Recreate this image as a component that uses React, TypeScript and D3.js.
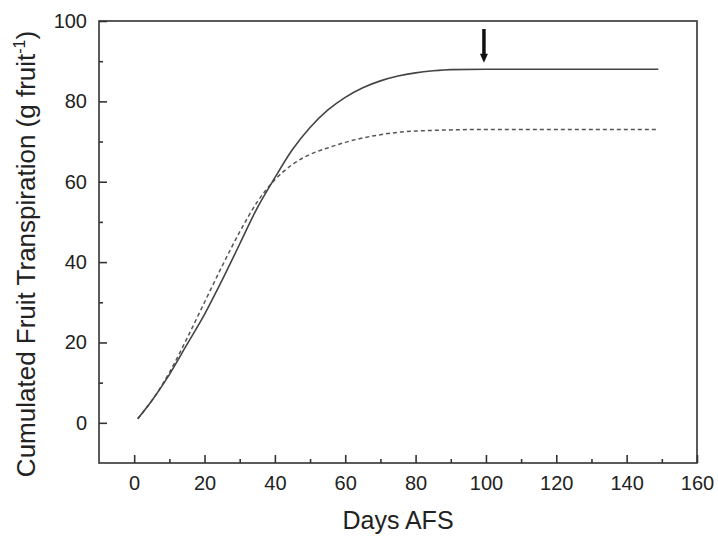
import React, { useEffect, useRef } from 'react';
import * as d3 from 'd3';

// days after full bloom (x) and cumulated transpiration (g per fruit)
const solidDays = [1, 5, 10, 15, 20, 25, 30, 35, 40, 45, 50, 55, 60, 65, 70, 75, 80, 85, 90, 100, 110, 120, 130, 140, 149];
const solidValues = [1, 5.5, 12, 19.5, 27, 35.5, 44.5, 53.5, 61, 68, 73.5, 77.8, 81, 83.4, 85.1, 86.3, 87.1, 87.6, 87.9, 88, 88, 88, 88, 88, 88];

const dashedDays = [1, 5, 10, 15, 20, 25, 30, 35, 40, 45, 50, 55, 60, 65, 70, 75, 80, 90, 100, 110, 120, 130, 140, 149];
const dashedValues = [1, 5.5, 12.5, 21, 30, 39, 47.5, 55, 60.5, 64.3, 66.8, 68.4, 69.8, 70.9, 71.7, 72.3, 72.6, 72.9, 73, 73, 73, 73, 73, 73];

const xTicks = [0, 20, 40, 60, 80, 100, 120, 140, 160];
const xMinorTicks = [10, 30, 50, 70, 90, 110, 130, 150];
const yTicks = [0, 20, 40, 60, 80, 100];
const yMinorTicks = [10, 30, 50, 70, 90];

// arrow marking the end of transpiration
const arrowDay = 100;
const arrowFrom = 98;
const arrowTo = 89.6;

const FONT = "'Liberation Sans', Arial, Helvetica, sans-serif";

const App = () => {
  const ref = useRef<SVGSVGElement>(null);

  useEffect(() => {
    const svg = d3.select(ref.current);
    svg.selectAll('*').remove();

    const width = 718;
    const height = 536;
    const margins = { top: 21, left: 99, right: 21, bottom: 73 };

    const xScale = d3.scaleLinear()
      .domain([-10, 160])
      .range([margins.left, width - margins.right]);
    const yScale = d3.scaleLinear()
      .domain([-10, 100])
      .range([height - margins.bottom, margins.top]);

    svg.append('rect')
      .attr('width', width)
      .attr('height', height)
      .attr('fill', '#fff');

    // frame
    svg.append('rect')
      .attr('x', xScale(-10))
      .attr('y', yScale(100))
      .attr('width', xScale(160) - xScale(-10))
      .attr('height', yScale(-10) - yScale(100))
      .attr('fill', 'none')
      .attr('stroke', '#333')
      .attr('stroke-width', 1.6);

    // x axis (ticks inside)
    const xAxis = svg.append('g')
      .attr('transform', `translate(0,${yScale(-10)})`);
    xAxis.call(d3.axisBottom(xScale).tickValues(xTicks).tickSizeInner(-8).tickSizeOuter(0).tickPadding(13));
    xAxis.append('g')
      .call(d3.axisBottom(xScale).tickValues(xMinorTicks).tickSizeInner(-4).tickSizeOuter(0).tickFormat(() => ''));
    xAxis.selectAll('.domain').remove();
    xAxis.selectAll('line').attr('stroke', '#333').attr('stroke-width', 1.6);
    xAxis.selectAll('text')
      .attr('font-family', FONT)
      .attr('font-size', 20)
      .attr('fill', '#222');

    // y axis (ticks inside)
    const yAxis = svg.append('g')
      .attr('transform', `translate(${xScale(-10)},0)`);
    yAxis.call(d3.axisLeft(yScale).tickValues(yTicks).tickSizeInner(-8).tickSizeOuter(0).tickPadding(12));
    yAxis.append('g')
      .call(d3.axisLeft(yScale).tickValues(yMinorTicks).tickSizeInner(-4).tickSizeOuter(0).tickFormat(() => ''));
    yAxis.selectAll('.domain').remove();
    yAxis.selectAll('line').attr('stroke', '#333').attr('stroke-width', 1.6);
    yAxis.selectAll('text')
      .attr('font-family', FONT)
      .attr('font-size', 20)
      .attr('fill', '#222');

    // axis titles
    svg.append('text')
      .attr('x', (xScale(-10) + xScale(160)) / 2)
      .attr('y', 529)
      .attr('text-anchor', 'middle')
      .attr('font-family', FONT)
      .attr('font-size', 25)
      .attr('fill', '#222')
      .text('Days AFS');

    const yTitle = svg.append('text')
      .attr('transform', `translate(35,254) rotate(-90)`)
      .attr('text-anchor', 'middle')
      .attr('font-family', FONT)
      .attr('font-size', 26)
      .attr('fill', '#222');
    yTitle.append('tspan').text('Cumulated Fruit Transpiration (g fruit');
    yTitle.append('tspan').attr('font-size', 16).attr('dy', -10).text('-1');
    yTitle.append('tspan').attr('dy', 10).text(')');

    const line = d3.line<[number, number]>()
      .x(d => xScale(d[0]))
      .y(d => yScale(d[1]))
      .curve(d3.curveMonotoneX);

    svg.append('path')
      .datum(dashedDays.map((d, i) => [d, dashedValues[i]] as [number, number]))
      .attr('d', line)
      .attr('fill', 'none')
      .attr('stroke', '#555')
      .attr('stroke-width', 1.5)
      .attr('stroke-dasharray', '4,3');

    svg.append('path')
      .datum(solidDays.map((d, i) => [d, solidValues[i]] as [number, number]))
      .attr('d', line)
      .attr('fill', 'none')
      .attr('stroke', '#444')
      .attr('stroke-width', 1.6);

    // arrow
    const ax = xScale(arrowDay) - 2;
    svg.append('line')
      .attr('x1', ax)
      .attr('x2', ax)
      .attr('y1', yScale(arrowFrom))
      .attr('y2', yScale(arrowTo) - 7)
      .attr('stroke', '#111')
      .attr('stroke-width', 3.5);
    svg.append('path')
      .attr('d', `M${ax - 4},${yScale(arrowTo) - 9} L${ax + 4},${yScale(arrowTo) - 9} L${ax},${yScale(arrowTo)} Z`)
      .attr('fill', '#111');
  }, []);

  return (
    <svg ref={ref} width={718} height={536} style={{ position: 'absolute', left: 0, top: 0 }}></svg>
  );
};

export default App;
